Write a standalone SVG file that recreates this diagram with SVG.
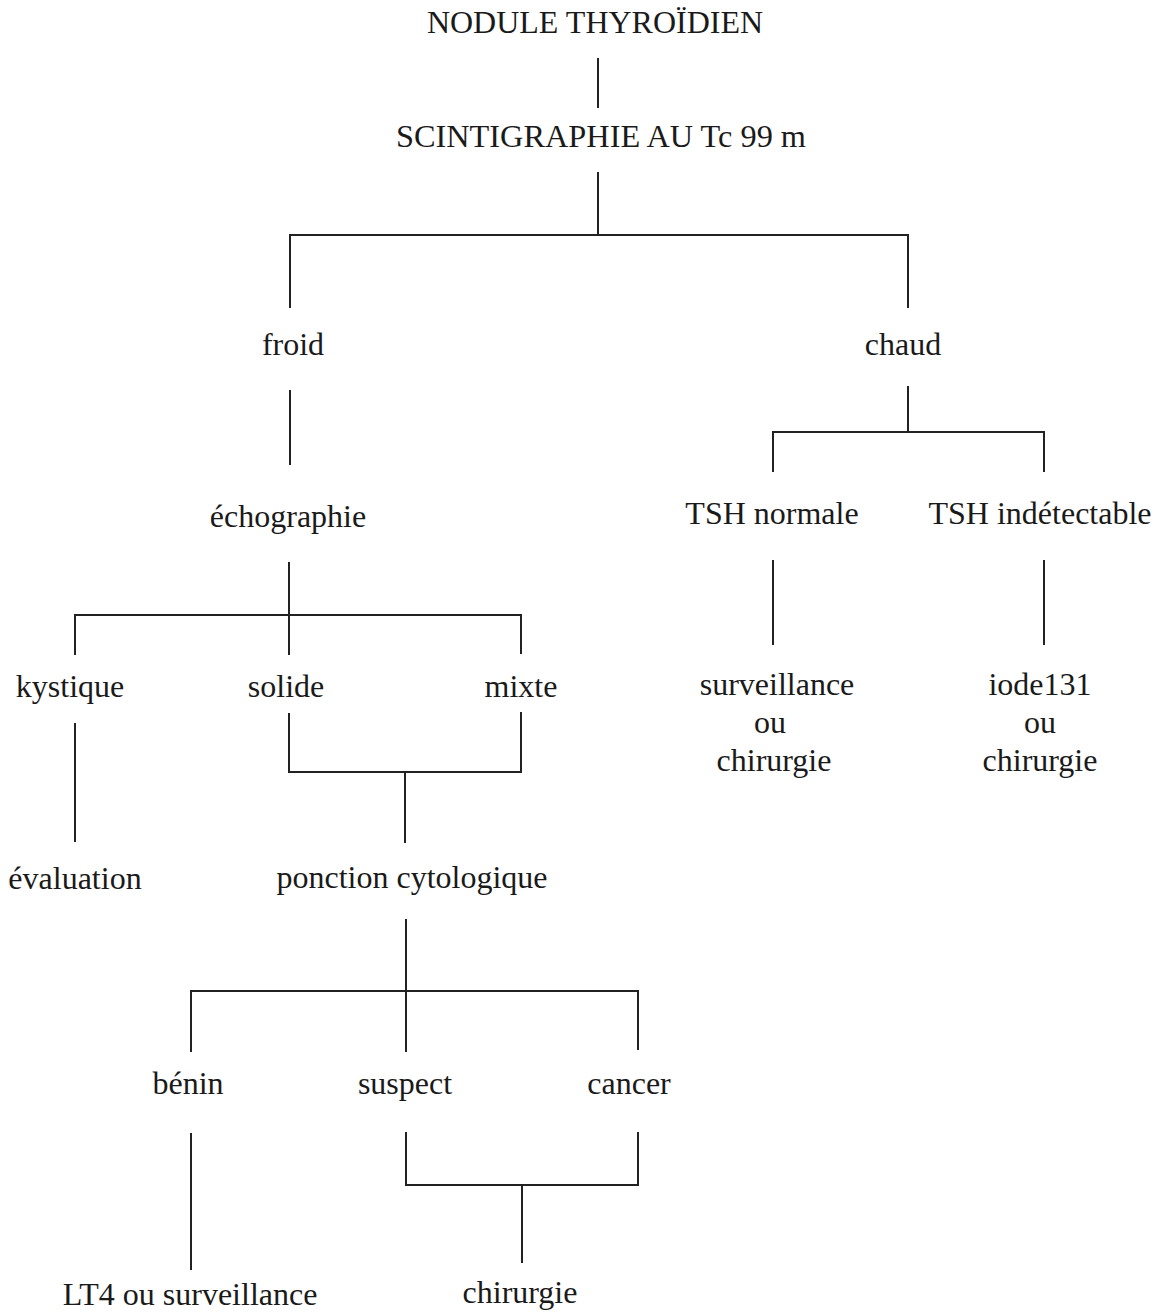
<svg xmlns="http://www.w3.org/2000/svg" width="1156" height="1312" viewBox="0 0 1156 1312">
<style>
text{font-family:"Liberation Serif","Times New Roman",serif;font-size:32px;fill:#1a1a1a;text-anchor:middle}
.c line,.c path{stroke:#222;stroke-width:2;fill:none}
</style>
<rect width="1156" height="1312" fill="#fff"/>
<g class="c" id="connectors">
<line x1="598" y1="58" x2="598" y2="108"/>
<line x1="598" y1="172" x2="598" y2="234"/>
<path d="M290,308 V235 H908 V308"/>
<line x1="290" y1="390" x2="290" y2="465"/>
<path d="M908,386 V432"/>
<path d="M773,472 V432 H1044 V472"/>
<line x1="773" y1="560" x2="773" y2="645"/>
<line x1="1044" y1="560" x2="1044" y2="645"/>
<line x1="289" y1="562" x2="289" y2="655"/>
<path d="M75,655 V615 H521 V654"/>
<line x1="75" y1="723" x2="75" y2="842"/>
<path d="M289,713 V772 H521 V712"/>
<line x1="405" y1="772" x2="405" y2="843"/>
<line x1="406" y1="919" x2="406" y2="1052"/>
<path d="M191,1052 V991 H638 V1050"/>
<line x1="191" y1="1133" x2="191" y2="1270"/>
<path d="M406,1132 V1185 H638 V1132"/>
<line x1="522" y1="1185" x2="522" y2="1263"/>
</g>
<g id="n-nodule"><text x="595" y="33">NODULE THYROÏDIEN</text></g>
<g id="n-scinti"><text x="601" y="147" textLength="410" lengthAdjust="spacingAndGlyphs">SCINTIGRAPHIE AU Tc 99 m</text></g>
<g id="n-froid"><text x="293" y="355">froid</text></g>
<g id="n-chaud"><text x="903" y="355">chaud</text></g>
<g id="n-echo"><text x="288" y="527">échographie</text></g>
<g id="n-tshn"><text x="772" y="524">TSH normale</text></g>
<g id="n-tshi"><text x="1040" y="524">TSH indétectable</text></g>
<g id="n-surv"><text x="777" y="695">surveillance</text><text x="770" y="733">ou</text><text x="774" y="771">chirurgie</text></g>
<g id="n-iode"><text x="1040" y="695">iode131</text><text x="1040" y="733">ou</text><text x="1040" y="771">chirurgie</text></g>
<g id="n-kyst"><text x="70" y="697">kystique</text></g>
<g id="n-solide"><text x="286" y="697">solide</text></g>
<g id="n-mixte"><text x="521" y="697">mixte</text></g>
<g id="n-eval"><text x="75" y="889">évaluation</text></g>
<g id="n-ponction"><text x="412" y="888">ponction cytologique</text></g>
<g id="n-benin"><text x="188" y="1094">bénin</text></g>
<g id="n-suspect"><text x="405" y="1094">suspect</text></g>
<g id="n-cancer"><text x="629" y="1094">cancer</text></g>
<g id="n-lt4"><text x="190" y="1305">LT4 ou surveillance</text></g>
<g id="n-chir"><text x="520" y="1303">chirurgie</text></g>
</svg>
